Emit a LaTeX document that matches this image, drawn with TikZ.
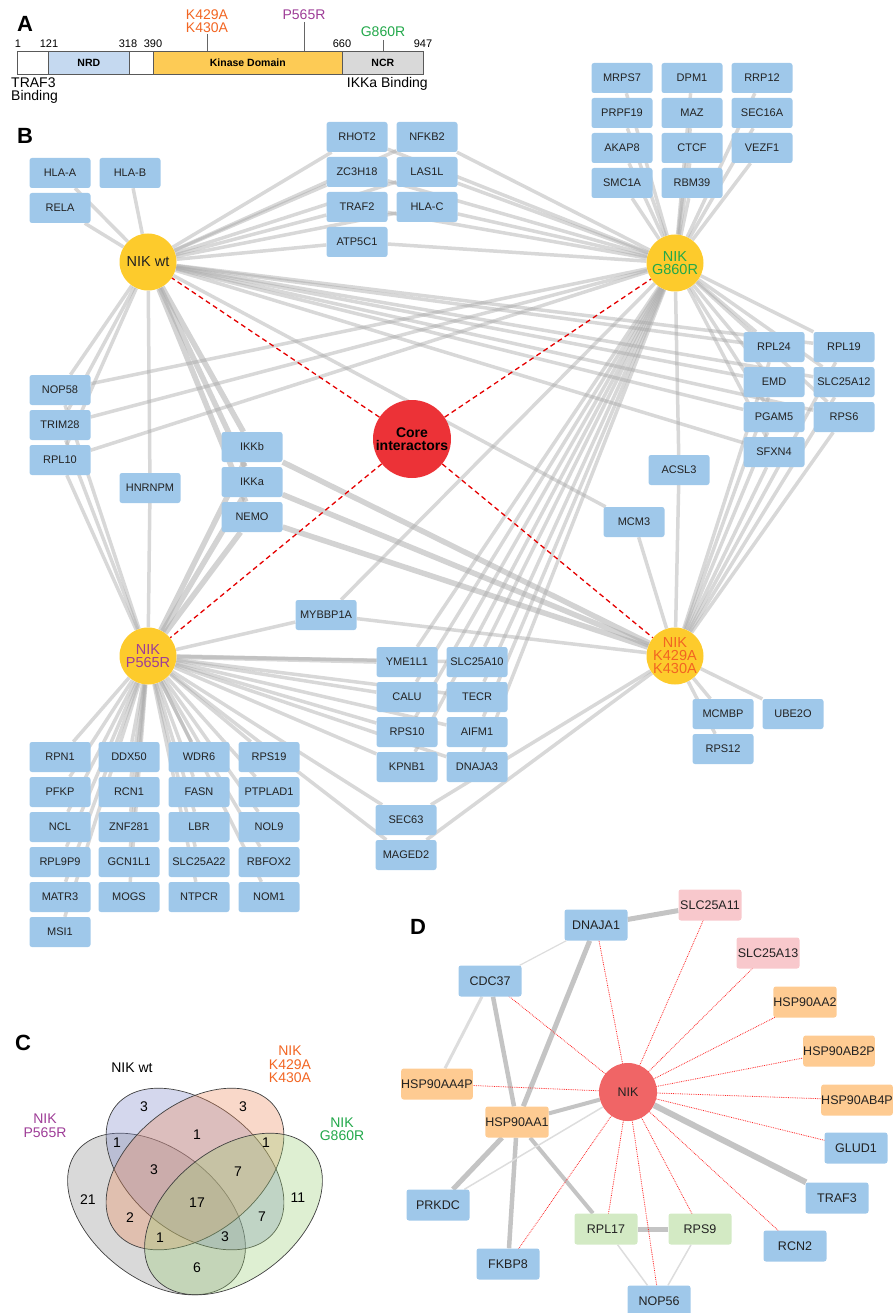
\documentclass[tikz,border=0pt]{standalone}
\usepackage{fontspec}
\setmainfont{Liberation Sans}
\definecolor{pblue}{HTML}{9FC8EA}
\definecolor{nikyel}{HTML}{FDCB2C}
\definecolor{corered}{HTML}{EC3237}
\definecolor{mutor}{HTML}{F26522}
\definecolor{mutpu}{HTML}{9E3D97}
\definecolor{mutgr}{HTML}{22A84A}
\definecolor{egray}{HTML}{A8A8A8}
\definecolor{nrdc}{HTML}{C5D9F0}
\definecolor{kinc}{HTML}{FDCB55}
\definecolor{ncrc}{HTML}{D9D9D9}
\definecolor{dred}{HTML}{F06566}
\definecolor{dpink}{HTML}{F8C8CC}
\definecolor{dorange}{HTML}{FECB92}
\definecolor{dgreen}{HTML}{D3EAC4}
\definecolor{dedge}{HTML}{C4C4C4}
\definecolor{dlight}{HTML}{DDDDDD}
\definecolor{vgray}{HTML}{8C8C8C}
\definecolor{vblue}{HTML}{7B86C8}
\definecolor{vor}{HTML}{EE8A5A}
\definecolor{vgr}{HTML}{9ACD75}
\definecolor{txt}{HTML}{222222}
\pgfdeclarelayer{edges}
\pgfsetlayers{edges,main}
\tikzset{
  prot/.style={rectangle, rounded corners=2.5pt, fill=pblue, minimum width=61pt, minimum height=30pt, inner sep=0pt, font=\fontsize{11}{11}\selectfont, text=txt},
  nik/.style={circle, fill=nikyel, minimum size=57pt, inner sep=0pt, align=center, font=\fontsize{14.5}{13.5}\selectfont},
  ed/.style={draw=egray, draw opacity=0.45, line width=3.5pt},
  edk/.style={draw=egray, draw opacity=0.5, line width=5.5pt},
  reddash/.style={draw=red!90!black, line width=1.3pt, dash pattern=on 5pt off 3.5pt},
  panel/.style={font=\fontsize{22}{22}\selectfont\bfseries, inner sep=0pt},
  seg/.style={draw=black!65, line width=0.6pt, minimum height=23pt, inner sep=0pt, anchor=west, font=\fontsize{10.5}{10.5}\selectfont\bfseries},
  num/.style={font=\fontsize{11}{11}\selectfont, inner sep=0pt},
  mut/.style={font=\fontsize{14}{13}\selectfont, inner sep=0pt, align=center},
  tick/.style={draw=black!60, line width=0.6pt},
  dbox/.style={rectangle, rounded corners=2.5pt, minimum width=63pt, minimum height=31pt, inner sep=0pt, font=\fontsize{12.5}{12.5}\selectfont, text=txt},
  dg/.style={draw=dedge},
  dl/.style={draw=dlight},
  dr/.style={draw=red!85!white, line width=0.8pt, densely dotted},
  venn/.style={draw=black!75, line width=0.7pt, fill opacity=0.33},
  vlab/.style={font=\fontsize{14}{13.5}\selectfont, align=center, inner sep=0pt},
  vnum/.style={font=\fontsize{14}{14}\selectfont, inner sep=0pt},
}
\begin{document}
\begin{tikzpicture}[x=1pt,y=-1pt]
\useasboundingbox (0,0) rectangle (894,1313);
% ---------------- Panel A ----------------
\node[panel] (lA) at (25,24) {A};
\node[seg, minimum width=31pt] (s1) at (17,62.5) {};
\node[seg, minimum width=81pt, fill=nrdc] (s2) at (48,62.5) {NRD};
\node[seg, minimum width=24pt] (s3) at (129,62.5) {};
\node[seg, minimum width=189pt, fill=kinc] (s4) at (153,62.5) {Kinase Domain};
\node[seg, minimum width=81pt, fill=ncrc] (s5) at (342,62.5) {NCR};
\node[num] (n1) at (18,44) {1};
\node[num] (n2) at (49,44) {121};
\node[num] (n3) at (128,44) {318};
\node[num] (n4) at (153,44) {390};
\node[num] (n5) at (342,44) {660};
\node[num] (n6) at (423,44) {947};
\coordinate (t1) at (207,34);
\coordinate (t2) at (304,22);
\coordinate (t3) at (383,40);
\draw[tick] (t1) -- (t1 |- s4.north);
\draw[tick] (t2) -- (t2 |- s4.north);
\draw[tick] (t3) -- (t3 |- s5.north);
\node[mut, text=mutor] (mk) at (207,21.5) {K429A\\K430A};
\node[mut, text=mutpu] (mp) at (304,15) {P565R};
\node[mut, text=mutgr] (mg) at (383,32) {G860R};
\node[mut, anchor=west, align=left] (tb) at (11,90.5) {TRAF3\\Binding};
\node[mut, anchor=east] (ib) at (428,84) {IKKa Binding};
% ---------------- Panel B ----------------
\node[panel] (lB) at (25,136) {B};
\node[prot] (hlaA) at (60,173) {HLA-A};
\node[prot] (hlaB) at (130,173) {HLA-B};
\node[prot] (rela) at (60,208) {RELA};
\node[nik, text=txt] (wt) at (148,262) {NIK wt};
\node[prot] (rhot2) at (357,137) {RHOT2};
\node[prot] (nfkb2) at (427,137) {NFKB2};
\node[prot] (zc3h18) at (357,172) {ZC3H18};
\node[prot] (las1l) at (427,172) {LAS1L};
\node[prot] (traf2) at (357,207) {TRAF2};
\node[prot] (hlaC) at (427,207) {HLA-C};
\node[prot] (atp5c1) at (357,242) {ATP5C1};
\node[prot] (mrps7) at (622,78) {MRPS7};
\node[prot] (dpm1) at (692,78) {DPM1};
\node[prot] (rrp12) at (762,78) {RRP12};
\node[prot] (prpf19) at (622,113) {PRPF19};
\node[prot] (maz) at (692,113) {MAZ};
\node[prot] (sec16a) at (762,113) {SEC16A};
\node[prot] (akap8) at (622,148) {AKAP8};
\node[prot] (ctcf) at (692,148) {CTCF};
\node[prot] (vezf1) at (762,148) {VEZF1};
\node[prot] (smc1a) at (622,183) {SMC1A};
\node[prot] (rbm39) at (692,183) {RBM39};
\node[nik, text=mutgr] (g8) at (675,263) {NIK\\G860R};
\node[prot] (rpl24) at (774,347) {RPL24};
\node[prot] (rpl19) at (844,347) {RPL19};
\node[prot] (emd) at (774,382) {EMD};
\node[prot] (slc25a12) at (844,382) {SLC25A12};
\node[prot] (pgam5) at (774,417) {PGAM5};
\node[prot] (rps6) at (844,417) {RPS6};
\node[prot] (sfxn4) at (774,452) {SFXN4};
\node[prot] (acsl3) at (679,470) {ACSL3};
\node[circle, fill=corered, minimum size=78pt, inner sep=0pt, align=center, font=\fontsize{14}{13.5}\selectfont\bfseries] (core) at (412,439) {Core\\interactors};
\node[prot] (nop58) at (60,390) {NOP58};
\node[prot] (trim28) at (60,425) {TRIM28};
\node[prot] (rpl10) at (60,460) {RPL10};
\node[prot] (hnrnpm) at (150,488) {HNRNPM};
\node[prot] (ikkb) at (252,447) {IKKb};
\node[prot] (ikka) at (252,482) {IKKa};
\node[prot] (nemo) at (252,517) {NEMO};
\node[prot] (mcm3) at (634,522) {MCM3};
\node[prot] (mybbp1a) at (326,615) {MYBBP1A};
\node[nik, text=mutpu] (p5) at (148,656) {NIK\\P565R};
\node[nik, text=mutor, font=\fontsize{14.5}{13}\selectfont] (k4) at (675,656) {NIK\\K429A\\K430A};
\node[prot] (yme1l1) at (407,662) {YME1L1};
\node[prot] (slc25a10) at (477,662) {SLC25A10};
\node[prot] (calu) at (407,697) {CALU};
\node[prot] (tecr) at (477,697) {TECR};
\node[prot] (rps10) at (407,732) {RPS10};
\node[prot] (aifm1) at (477,732) {AIFM1};
\node[prot] (kpnb1) at (407,767) {KPNB1};
\node[prot] (dnaja3) at (477,767) {DNAJA3};
\node[prot] (sec63) at (406,820) {SEC63};
\node[prot] (maged2) at (406,855) {MAGED2};
\node[prot] (mcmbp) at (723,714) {MCMBP};
\node[prot] (ube2o) at (793,714) {UBE2O};
\node[prot] (rps12) at (723,749) {RPS12};
% grid
\node[prot] (rpn1) at (60,757) {RPN1};
\node[prot] (pfkp) at (60,792) {PFKP};
\node[prot] (ncl) at (60,827) {NCL};
\node[prot] (rpl9p9) at (60,862) {RPL9P9};
\node[prot] (matr3) at (60,897) {MATR3};
\node[prot] (msi1) at (60,932) {MSI1};
\node[prot] (ddx50) at (129,757) {DDX50};
\node[prot] (rcn1) at (129,792) {RCN1};
\node[prot] (znf281) at (129,827) {ZNF281};
\node[prot] (gcn1l1) at (129,862) {GCN1L1};
\node[prot] (mogs) at (129,897) {MOGS};
\node[prot] (wdr6) at (199,757) {WDR6};
\node[prot] (fasn) at (199,792) {FASN};
\node[prot] (lbr) at (199,827) {LBR};
\node[prot] (slc25a22) at (199,862) {SLC25A22};
\node[prot] (ntpcr) at (199,897) {NTPCR};
\node[prot] (rps19) at (269,757) {RPS19};
\node[prot] (ptplad1) at (269,792) {PTPLAD1};
\node[prot] (nol9) at (269,827) {NOL9};
\node[prot] (rbfox2) at (269,862) {RBFOX2};
\node[prot] (nom1) at (269,897) {NOM1};
% ---------------- Panel C ----------------
\node[panel] (lC) at (23,1043) {C};
\begin{scope}[shift={(156.5,1214)}, xscale=1.1]
  \path[venn, fill=vgray, rotate=-45] (0,0) ellipse [x radius=96, y radius=62];
\end{scope}
\begin{scope}[shift={(195,1169)}, xscale=1.1]
  \path[venn, fill=vblue, rotate=-45] (0,0) ellipse [x radius=96, y radius=62];
  \path[venn, fill=vor, rotate=45] (0,0) ellipse [x radius=96, y radius=62];
\end{scope}
\begin{scope}[shift={(233.5,1214)}, xscale=1.1]
  \path[venn, fill=vgr, rotate=45] (0,0) ellipse [x radius=96, y radius=62];
\end{scope}
\node[vlab] (cwt) at (132,1068) {NIK wt};
\node[vlab, text=mutor] (ck4) at (290,1064.5) {NIK\\K429A\\K430A};
\node[vlab, text=mutpu] (cp5) at (45,1125.5) {NIK\\P565R};
\node[vlab, text=mutgr] (cg8) at (342,1129) {NIK\\G860R};
\node[vnum] (v1) at (144,1107) {3};
\node[vnum] (v2) at (243,1107) {3};
\node[vnum] (v3) at (197,1135) {1};
\node[vnum] (v4) at (117,1143) {1};
\node[vnum] (v5) at (266,1143) {1};
\node[vnum] (v6) at (154,1170) {3};
\node[vnum] (v7) at (238,1172) {7};
\node[vnum] (v8) at (88,1200) {21};
\node[vnum] (v9) at (298,1198) {11};
\node[vnum] (v10) at (197,1203) {17};
\node[vnum] (v11) at (130,1218) {2};
\node[vnum] (v12) at (262,1217) {7};
\node[vnum] (v13) at (160,1238) {1};
\node[vnum] (v14) at (225,1237) {3};
\node[vnum] (v15) at (197,1268) {6};
% ---------------- Panel D ----------------
\node[panel] (lD) at (418,927) {D};
\node[circle, fill=dred, minimum size=58pt, inner sep=0pt, font=\fontsize{12.5}{12}\selectfont, text=txt] (nikD) at (628,1092) {NIK};
\node[dbox, fill=pblue] (dnaja1) at (596,925) {DNAJA1};
\node[dbox, fill=dpink] (slc25a11) at (710,905) {SLC25A11};
\node[dbox, fill=dpink] (slc25a13) at (768,953) {SLC25A13};
\node[dbox, fill=dorange] (hsp90aa2) at (805,1002) {HSP90AA2};
\node[dbox, fill=dorange] (hsp90ab2p) at (839,1051) {HSP90AB2P};
\node[dbox, fill=dorange] (hsp90ab4p) at (857,1100) {HSP90AB4P};
\node[dbox, fill=pblue] (glud1) at (856,1148) {GLUD1};
\node[dbox, fill=pblue] (traf3) at (837,1198) {TRAF3};
\node[dbox, fill=pblue] (rcn2) at (795,1246) {RCN2};
\node[dbox, fill=dgreen] (rps9) at (700,1229) {RPS9};
\node[dbox, fill=dgreen] (rpl17) at (606,1229) {RPL17};
\node[dbox, fill=pblue] (nop56) at (659,1301) {NOP56};
\node[dbox, fill=pblue] (fkbp8) at (508,1264) {FKBP8};
\node[dbox, fill=pblue] (prkdc) at (438,1205) {PRKDC};
\node[dbox, fill=dorange] (hsp90aa1) at (517,1122) {HSP90AA1};
\node[dbox, fill=dorange] (hsp90aa4p) at (437,1084) {HSP90AA4P};
\node[dbox, fill=pblue] (cdc37) at (490,981) {CDC37};
% ---------------- Edges ----------------
\begin{pgfonlayer}{edges}
\foreach \t in {hlaA,hlaB,rela,rhot2,nfkb2,zc3h18,las1l,traf2,hlaC,atp5c1,nop58,trim28,rpl10,hnrnpm,mcm3,rpl24,rpl19,emd,slc25a12,pgam5,rps6,sfxn4}
  \draw[ed] (wt) -- (\t);
\foreach \t in {ikkb,ikka,nemo} {
  \draw[edk] (wt) -- (\t);
  \draw[edk] (p5) -- (\t);
  \draw[edk] (k4) -- (\t);
}
\foreach \t in {mrps7,dpm1,rrp12,prpf19,maz,sec16a,akap8,ctcf,vezf1,smc1a,rbm39,rhot2,nfkb2,zc3h18,las1l,traf2,hlaC,atp5c1,rpl24,rpl19,emd,slc25a12,pgam5,rps6,sfxn4,nop58,trim28,rpl10,acsl3,mybbp1a,yme1l1,slc25a10,calu,tecr,rps10,aifm1,kpnb1,dnaja3}
  \draw[ed] (g8) -- (\t);
\foreach \t in {mcmbp,ube2o,rps12,rpl24,rpl19,emd,slc25a12,pgam5,rps6,sfxn4,acsl3,mcm3,mybbp1a,sec63,maged2}
  \draw[ed] (k4) -- (\t);
\foreach \t in {rpn1,pfkp,ncl,rpl9p9,matr3,msi1,ddx50,rcn1,znf281,gcn1l1,mogs,wdr6,fasn,lbr,slc25a22,ntpcr,rps19,ptplad1,nol9,rbfox2,nom1,nop58,trim28,rpl10,hnrnpm,mybbp1a,slc25a10,calu,tecr,rps10,aifm1,kpnb1,dnaja3,sec63,maged2}
  \draw[ed] (p5) -- (\t);
\draw[ed, line width=5pt] (p5) -- (yme1l1);
\foreach \t in {wt,g8,p5,k4}
  \draw[reddash] (core) -- (\t);
% panel D
\draw[dg, line width=5pt] (dnaja1) -- (slc25a11);
\draw[dl, line width=1.2pt] (dnaja1) -- (cdc37);
\draw[dg, line width=5pt] (dnaja1) -- (hsp90aa1);
\draw[dg, line width=4.5pt] (cdc37) -- (hsp90aa1);
\draw[dl, line width=3pt] (cdc37) -- (hsp90aa4p);
\draw[dg, line width=4pt] (hsp90aa1) -- (nikD);
\draw[dg, line width=5pt] (hsp90aa1) -- (prkdc);
\draw[dg, line width=4.5pt] (hsp90aa1) -- (fkbp8);
\draw[dg, line width=4pt] (hsp90aa1) -- (rpl17);
\draw[dl, line width=1.5pt] (nikD) -- (prkdc);
\draw[dg, line width=6pt] (nikD) -- (traf3);
\draw[dg, line width=5pt] (rpl17) -- (rps9);
\draw[dl, line width=1.5pt] (rpl17) -- (nop56);
\draw[dl, line width=1.5pt] (rps9) -- (nop56);
\foreach \t in {cdc37,dnaja1,slc25a11,slc25a13,hsp90aa2,hsp90ab2p,hsp90ab4p,glud1,rcn2,rps9,nop56,rpl17,fkbp8,hsp90aa4p}
  \draw[dr] (nikD.center) -- (\t.center);
\end{pgfonlayer}
\end{tikzpicture}
\end{document}
